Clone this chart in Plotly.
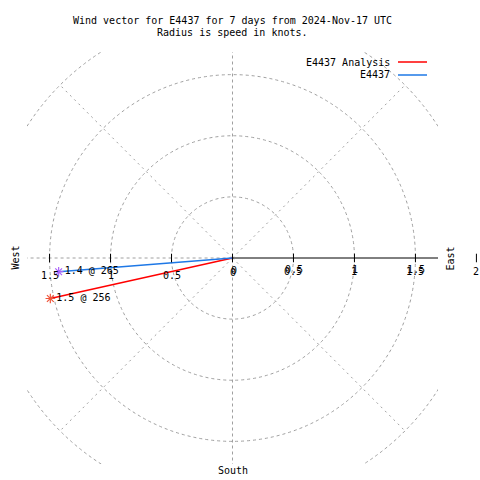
import numpy as np
import plotly.graph_objects as go

# ---- data ----
series_names = ["E4437 Analysis", "E4437"]
speeds_kt = [1.53, 1.43]          # plotted radius (knots)
dirs_deg = [257.5, 265.5]         # plotted bearing (deg, 0 = North, clockwise)
point_labels = ["1.5 @ 256", "1.4 @ 265"]
colors = ["#ff0000", "#1e78e6"]
ring_radii = [0.5, 1.0, 1.5, 2.0]
tick_right = [0.5, 1.0, 1.5, 2.0]
tick_left = [0.5, 1.0, 1.5]
title_lines = ["Wind vector for E4437 for 7 days from 2024-Nov-17 UTC",
               "Radius is speed in knots."]

FONT = "DejaVu Sans Mono"
GRID = "#a0a0a0"
R = 1.685

W, H = 480, 480
ml, mr, mt, mb = 27, 42, 52, 16
pw, ph = W - ml - mr, H - mt - mb


def px2paper(px, py):
    return (px - ml) / pw, 1 - (py - mt) / ph


def d2paper(x, y):
    return (x + R) / (2 * R), (y + R) / (2 * R)


fig = go.Figure()

shapes = []
for r in ring_radii:
    shapes.append(dict(type="circle", xref="x", yref="y", x0=-r, y0=-r, x1=r, y1=r,
                       line=dict(color=GRID, width=1, dash="3px,3px"), layer="below"))
for a in [45, 135, 225, 315]:
    t = np.deg2rad(a)
    shapes.append(dict(type="line", xref="x", yref="y", x0=0, y0=0,
                       x1=2 * np.sin(t), y1=2 * np.cos(t),
                       line=dict(color=GRID, width=1, dash="2px,4px"), layer="below"))
shapes.append(dict(type="line", xref="x", yref="y", x0=0, y0=-2, x1=0, y1=2,
                   line=dict(color=GRID, width=1, dash="3px,3px"), layer="below"))
shapes.append(dict(type="line", xref="x", yref="y", x0=-2, y0=0, x1=0, y1=0,
                   line=dict(color=GRID, width=1, dash="3px,3px"), layer="below"))
shapes.append(dict(type="line", xref="x", yref="y", x0=0, y0=0, x1=2, y1=0,
                   line=dict(color="black", width=1), layer="below"))
# tick marks (paper refs so the one at 2, outside the plot area, still shows)
for v in [0] + tick_right + [-t for t in tick_left]:
    xp, y0p = d2paper(v, -0.035)
    _, y1p = d2paper(v, 0.035)
    shapes.append(dict(type="line", xref="paper", yref="paper", x0=xp, y0=y0p, x1=xp, y1=y1p,
                       line=dict(color="black", width=1)))

for name, s, d, lab_, c in zip(series_names, speeds_kt, dirs_deg, point_labels, colors):
    t = np.deg2rad(d)
    tx, ty = s * np.sin(t), s * np.cos(t)
    fig.add_trace(go.Scatter(x=[0, tx], y=[0, ty], mode="lines",
                             line=dict(color=c, width=1.5), showlegend=False,
                             hoverinfo="skip"))
    fig.add_trace(go.Scatter(x=[tx], y=[ty], mode="markers+text", text=[lab_],
                             textposition="middle right",
                             textfont=dict(family=FONT, size=10, color="black"),
                             marker=dict(symbol="asterisk-open", size=8,
                                         line=dict(color=c, width=1.2)),
                             showlegend=False, hoverinfo="skip", name=name))

ann = []


def lab(x, y, text, xs=0, ys=0, **kw):
    xp, yp = d2paper(x, y)
    d = dict(x=xp, y=yp, xref="paper", yref="paper", text=text, showarrow=False,
             xanchor="center", yanchor="middle",
             font=dict(family=FONT, size=10, color="black"), xshift=xs, yshift=ys)
    d.update(kw)
    ann.append(d)


def fmt(v):
    return "%g" % v


for v in tick_right[:-1]:
    lab(v, 0, fmt(v), 0, -13)
    lab(v, 0, fmt(v), 1, -11)
lab(0, 0, "0", 0, -14)
lab(0, 0, "0", 1, -12)
lab(tick_right[-1], 0, fmt(tick_right[-1]), 0, -13)
for v in tick_left:
    lab(-v, 0, fmt(v), 0, -17)

lab(-1.787, 0, "West", textangle=-90)
lab(1.787, 0, "East", textangle=-90)
lab(0, -1.738, "South")

for i, tl in enumerate(title_lines):
    xp, yp = px2paper(232, 20 + 13 * i)
    ann.append(dict(x=xp, y=yp, xref="paper", yref="paper", text=tl,
                    xanchor="center", yanchor="middle",
                    showarrow=False, font=dict(family=FONT, size=10, color="black")))

for i, (name, c) in enumerate(zip(series_names, colors)):
    yy = 62 + 13 * i
    xp, yp = px2paper(392, yy)
    ann.append(dict(x=xp, y=yp, xref="paper", yref="paper", text=name,
                    xanchor="right", yanchor="middle", showarrow=False,
                    font=dict(family=FONT, size=10, color="black")))
    x0, _ = px2paper(398, yy)
    x1, _ = px2paper(427, yy)
    shapes.append(dict(type="line", xref="paper", yref="paper", x0=x0, x1=x1,
                       y0=yp, y1=yp, line=dict(color=c, width=1.5)))

fig.update_layout(
    width=W, height=H,
    margin=dict(l=ml, r=mr, t=mt, b=mb),
    paper_bgcolor="white", plot_bgcolor="white",
    xaxis=dict(range=[-R, R], visible=False, fixedrange=True),
    yaxis=dict(range=[-R, R], visible=False, fixedrange=True),
    shapes=shapes, annotations=ann, showlegend=False,
)

fig.write_html("out.html", config={"displayModeBar": False},
               post_script="document.body.style.margin='0px';")
